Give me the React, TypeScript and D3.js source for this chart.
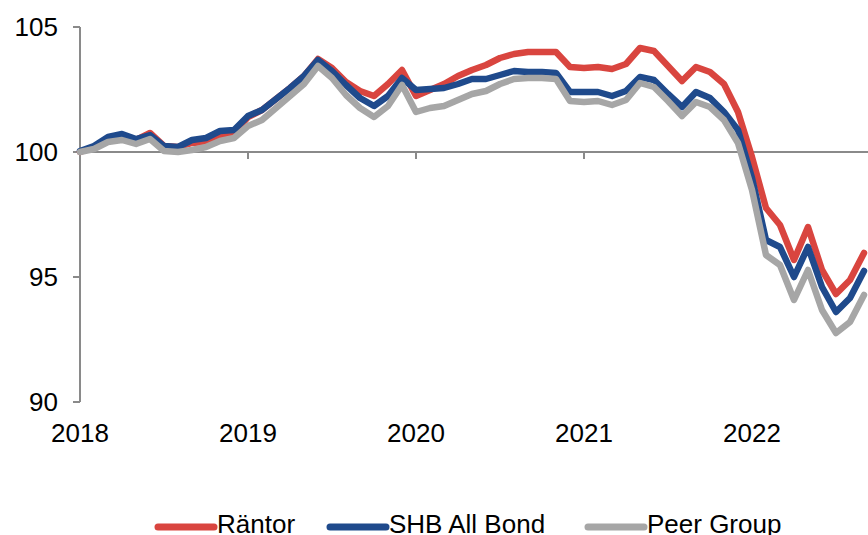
import React from "react";
import * as d3 from "d3";

const yearLabels = ["2018", "2019", "2020", "2021", "2022"];
const yTicks = [90, 95, 100, 105];
const seriesNames = ["Räntor", "SHB All Bond", "Peer Group"];

// Monthly index values, Jan 2018 .. Sep 2022
const rantor = [
  100.0, 100.2, 100.56, 100.68, 100.48, 100.76, 100.24, 100.2, 100.36, 100.4, 100.64, 100.76,
  101.4, 101.68, 102.12, 102.56, 103.04, 103.72, 103.36, 102.8, 102.44, 102.24, 102.72, 103.28,
  102.24, 102.48, 102.72, 103.04, 103.28, 103.48, 103.76, 103.92, 104.0, 104.0, 104.0, 103.4,
  103.36, 103.4, 103.32, 103.52, 104.16, 104.04, 103.44, 102.84, 103.4, 103.2, 102.72, 101.6,
  99.8, 97.76, 97.08, 95.68, 97.0, 95.28, 94.32, 94.88, 95.96,
];
const shbAllBond = [
  100.04, 100.24, 100.6, 100.72, 100.52, 100.68, 100.24, 100.2, 100.48, 100.56, 100.84, 100.88,
  101.44, 101.68, 102.12, 102.56, 103.04, 103.68, 103.24, 102.68, 102.16, 101.84, 102.24, 102.96,
  102.48, 102.52, 102.56, 102.72, 102.92, 102.92, 103.08, 103.24, 103.2, 103.2, 103.16, 102.4,
  102.4, 102.4, 102.24, 102.44, 103.0, 102.88, 102.32, 101.8, 102.4, 102.16, 101.6, 100.88,
  98.96, 96.48, 96.2, 95.0, 96.2, 94.6, 93.6, 94.16, 95.24,
];
const peerGroup = [
  100.0, 100.12, 100.4, 100.48, 100.32, 100.52, 100.04, 100.0, 100.08, 100.2, 100.44, 100.56,
  101.04, 101.28, 101.76, 102.24, 102.72, 103.44, 102.96, 102.28, 101.76, 101.4, 101.84, 102.68,
  101.6, 101.76, 101.84, 102.08, 102.32, 102.44, 102.72, 102.92, 102.96, 102.96, 102.92, 102.04,
  102.0, 102.04, 101.88, 102.08, 102.76, 102.6, 102.04, 101.44, 102.0, 101.8, 101.28, 100.36,
  98.48, 95.88, 95.48, 94.08, 95.28, 93.68, 92.76, 93.2, 94.28,
];

const W = 868;
const H = 535;
const FONT = "'Liberation Sans', Arial, sans-serif";
const colors = ["#d9453f", "#1f4a8c", "#a6a6a6"];
const axisColor = "#8a8a8a";

export default function App() {
  const x = d3.scaleLinear().domain([0, 48]).range([80, 752]);
  const y = d3.scaleLinear().domain([90, 105]).range([402, 27]);
  const line = d3
    .line<number>()
    .x((_, i) => x(i))
    .y((v) => y(v));
  const data = [rantor, shbAllBond, peerGroup];
  const legendX = [158, 330, 588];

  return (
    <svg
      width={W}
      height={H}
      style={{ position: "absolute", left: 0, top: 0, background: "#fff" }}
      fontFamily={FONT}
    >
      <defs>
        <clipPath id="plot">
          <rect x={0} y={0} width={W} height={H} />
        </clipPath>
      </defs>
      {/* y axis */}
      <line x1={x(0)} x2={x(0)} y1={y(105)} y2={y(90)} stroke={axisColor} strokeWidth={2} />
      {yTicks.map((t) => (
        <g key={t}>
          <line x1={x(0) - 7} x2={x(0)} y1={y(t)} y2={y(t)} stroke={axisColor} strokeWidth={2} />
          <text x={58} y={y(t) + 9} textAnchor="end" fontSize={26} fill="#000">
            {t}
          </text>
        </g>
      ))}
      {/* x axis at 100 */}
      <line x1={x(0)} x2={W} y1={y(100)} y2={y(100)} stroke={axisColor} strokeWidth={2} />
      {yearLabels.map((lab, i) => (
        <g key={lab}>
          <line x1={x(i * 12)} x2={x(i * 12)} y1={y(100)} y2={y(100) + 7} stroke={axisColor} strokeWidth={2} />
          <text x={x(i * 12)} y={442} textAnchor="middle" fontSize={26} fill="#000">
            {lab}
          </text>
        </g>
      ))}
      {/* series */}
      <g clipPath="url(#plot)">
        {data.map((d, k) => (
          <path
            key={k}
            d={line(d) || ""}
            fill="none"
            stroke={colors[k]}
            strokeWidth={6.5}
            strokeLinejoin="round"
            strokeLinecap="round"
          />
        ))}
      </g>
      {/* legend */}
      {seriesNames.map((name, k) => (
        <g key={name}>
          <line
            x1={legendX[k]}
            x2={legendX[k] + 56}
            y1={527}
            y2={527}
            stroke={colors[k]}
            strokeWidth={7}
            strokeLinecap="round"
          />
          <text x={legendX[k] + 59} y={533} fontSize={26} fill="#000">
            {name}
          </text>
        </g>
      ))}
    </svg>
  );
}
